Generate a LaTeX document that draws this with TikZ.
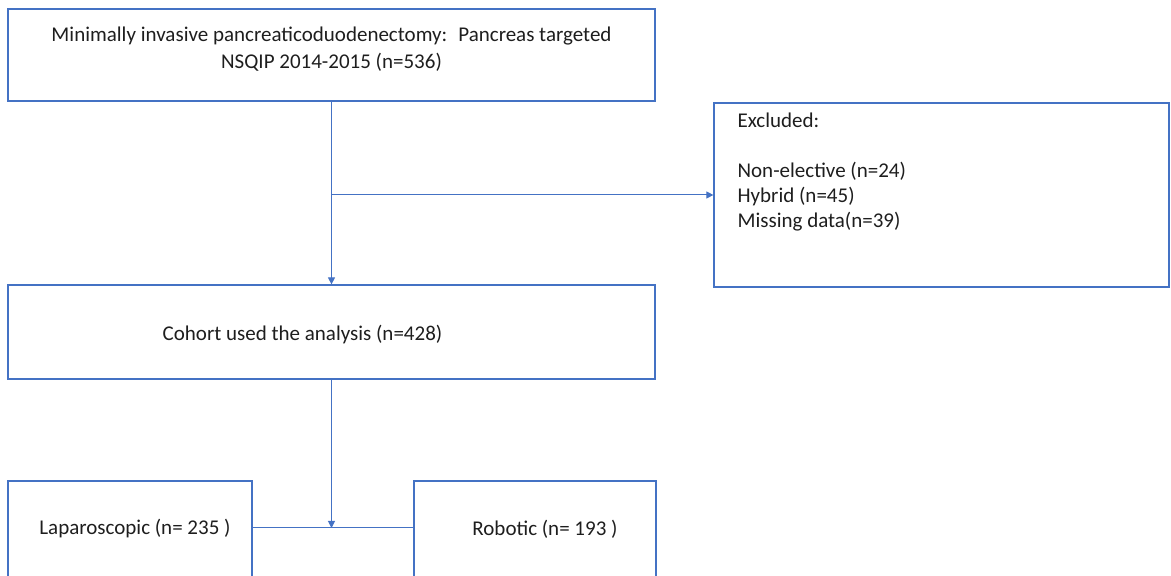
\documentclass[tikz,border=0pt]{standalone}
\usepackage{fontspec}
\setmainfont{Carlito}
\usetikzlibrary{positioning,arrows.meta}

\definecolor{flowblue}{RGB}{68,114,196}
\definecolor{flowtext}{RGB}{30,30,30}

\tikzset{
	box/.style={draw=flowblue, line width=1.2pt, rectangle, inner sep=0pt},
	boxtext/.style={text=flowtext, inner sep=0pt, font=\fontsize{21}{25}\selectfont},
	link/.style={draw=flowblue, line width=1pt, -{Triangle[length=7pt,width=7pt]}},
	plainlink/.style={draw=flowblue, line width=1pt}
}

\begin{document}
\begin{tikzpicture}[x=1pt,y=1pt]

% Frame
\useasboundingbox (0,0) rectangle (1171,576);
\clip (0,0) rectangle (1171,576);

%% BOXES
% Source
\node[box, minimum width=647pt, minimum height=92pt] (source) at (331.5,521) {};
\node[boxtext, align=center] (sourcetext) at ([yshift=-41pt]source.north)
	{Minimally invasive pancreaticoduodenectomy:~ Pancreas targeted\\[2pt] NSQIP 2014-2015 (n=536)};

% Excluded
\node[box, minimum width=455pt, minimum height=184pt] (excluded) at (941.5,381) {};
\node[boxtext, align=left, anchor=north west] (excludedtext) at ([xshift=24pt,yshift=-10pt]excluded.north west)
	{Excluded:\\[25pt] Non-elective (n=24)\\ Hybrid (n=45)\\ Missing data(n=39)};

% Cohort
\node[box, minimum width=647pt, minimum height=94pt] (cohort) at (331.5,244) {};
\node[boxtext] (cohorttext) at ([xshift=-29pt,yshift=-3pt]cohort.center) {Cohort used the analysis (n=428)};

% Groups
\node[box, minimum width=244pt, minimum height=110pt] (lap) at (130,40) {};
\node[boxtext] (laptext) at ([xshift=5pt,yshift=7pt]lap.center) {Laparoscopic (n= 235 )};
\node[box, minimum width=242pt, minimum height=110pt] (robotic) at (535,40) {};
\node[boxtext] (robotictext) at ([xshift=10pt,yshift=7pt]robotic.center) {Robotic (n= 193 )};

%% CONNECTORS
\coordinate (split) at (cohort.south |- 0,48);
\draw[link] (source) -- (cohort);
\draw[link] (source.south |- excluded.west) -- (excluded.west);
\draw[plainlink] (lap.east |- split) -- (robotic.west |- split);
\draw[link] (cohort) -- (split);

\end{tikzpicture}
\end{document}
